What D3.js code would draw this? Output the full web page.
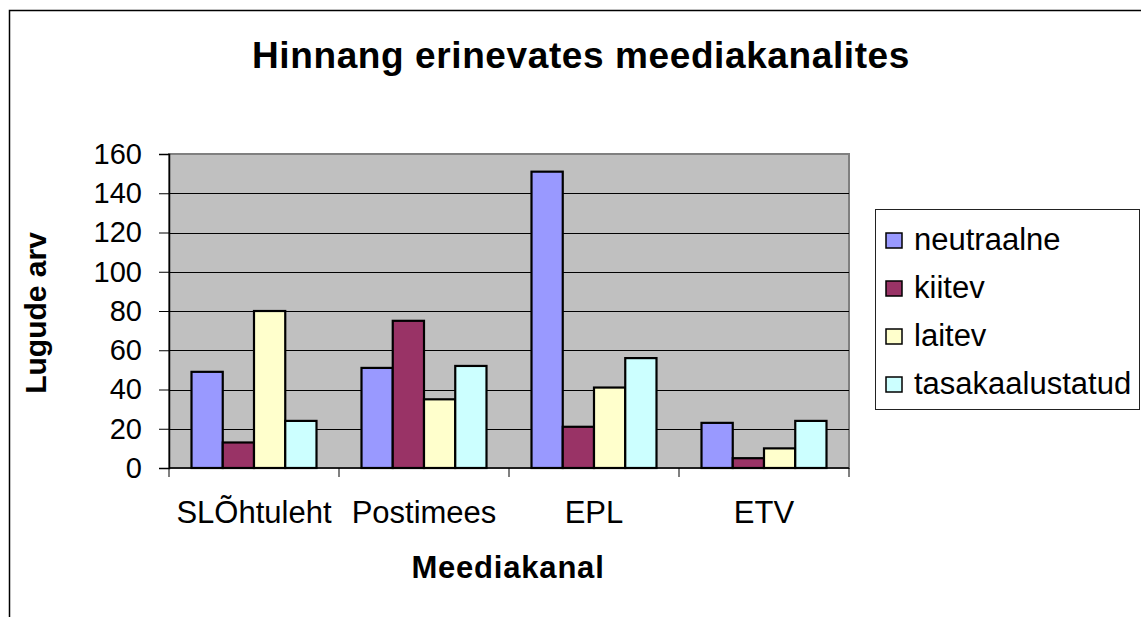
<!DOCTYPE html>
<html lang="et">
<head>
<meta charset="utf-8">
<script src="https://d3js.org/d3.v7.min.js"></script>
<title>Hinnang erinevates meediakanalites</title>
<style>
    body { margin: 0; background: #fff; }
    text { font-family: Arial, "Liberation Sans", sans-serif; fill: #000; }
</style>
</head>
<body>
<div id="container"></div>
<script>
    // data
    var channels = ["SLÕhtuleht", "Postimees", "EPL", "ETV"];
    var seriesNames = ["neutraalne", "kiitev", "laitev", "tasakaalustatud"];
    var neutraalne = [49, 51, 151, 23];
    var kiitev = [13, 75, 21, 5];
    var laitev = [80, 35, 41, 10];
    var tasakaalustatud = [24, 52, 56, 24];
    var yTicks = [0, 20, 40, 60, 80, 100, 120, 140, 160];
    var colours = ["#9999ff", "#993366", "#ffffcc", "#ccffff"];

    var seriesValues = [neutraalne, kiitev, laitev, tasakaalustatud];

    var W = 1141, H = 617;
    var plot = {left: 169, right: 849, top: 154, bottom: 468};

    var svg = d3.select("#container")
        .append("svg")
        .attr("width", W)
        .attr("height", H);

    // outer chart frame (only top and left edges fall inside the window)
    svg.append("rect")
        .attr("x", 9.5).attr("y", 10.5)
        .attr("width", 1200).attr("height", 700)
        .attr("fill", "#fff")
        .attr("stroke", "#000")
        .attr("stroke-width", 1.5);

    svg.append("text")
        .attr("x", 581).attr("y", 68)
        .attr("text-anchor", "middle")
        .style("font-size", "37px")
        .style("font-weight", "bold")
        .style("letter-spacing", "0.6px")
        .text("Hinnang erinevates meediakanalites");

    var x = d3.scaleBand()
        .domain(channels)
        .range([plot.left, plot.right])
        .padding(0);

    var xs = d3.scaleBand()
        .domain(seriesNames)
        .range([0, x.bandwidth()])
        .paddingInner(0)
        .paddingOuter(0.72);

    var y = d3.scaleLinear()
        .domain([0, 160])
        .range([plot.bottom, plot.top]);

    // plot area
    svg.append("rect")
        .attr("x", plot.left).attr("y", plot.top)
        .attr("width", plot.right - plot.left)
        .attr("height", plot.bottom - plot.top)
        .attr("fill", "#c0c0c0")
        .attr("stroke", "#808080")
        .attr("stroke-width", 2);

    // gridlines
    svg.append("g")
        .selectAll("line")
        .data(yTicks.filter(function(d) { return d > 0 && d < 160; }))
        .enter()
        .append("line")
        .attr("x1", plot.left).attr("x2", plot.right)
        .attr("y1", function(d) { return Math.round(y(d)) + 0.5; })
        .attr("y2", function(d) { return Math.round(y(d)) + 0.5; })
        .attr("stroke", "#000")
        .attr("stroke-width", 1);

    // bars
    var groups = svg.append("g")
        .selectAll("g")
        .data(channels)
        .enter()
        .append("g")
        .attr("transform", function(d) { return "translate(" + x(d) + ",0)"; });

    groups.selectAll("rect")
        .data(function(d, i) {
            return seriesNames.map(function(s, j) {
                return {series: s, value: seriesValues[j][i], colour: colours[j]};
            });
        })
        .enter()
        .append("rect")
        .attr("x", function(d) { return xs(d.series); })
        .attr("width", xs.bandwidth())
        .attr("y", function(d) { return y(d.value); })
        .attr("height", function(d) { return y(0) - y(d.value); })
        .attr("fill", function(d) { return d.colour; })
        .attr("stroke", "#000")
        .attr("stroke-width", 2.2);

    // y axis
    var yAxis = svg.append("g")
        .attr("transform", "translate(" + plot.left + ",0)")
        .call(d3.axisLeft(y).tickValues(yTicks).tickSize(10).tickPadding(17));
    yAxis.select(".domain").attr("stroke", "#000").attr("stroke-width", 1.5);
    yAxis.selectAll(".tick line").attr("stroke", "#000");
    yAxis.selectAll("text")
        .style("font-size", "29px")
        .style("font-family", "Arial, 'Liberation Sans', sans-serif")
        .attr("fill", "#000");

    // x axis: ticks sit on the category boundaries
    var xAxis = svg.append("g")
        .attr("transform", "translate(0," + plot.bottom + ")");
    xAxis.append("line")
        .attr("x1", plot.left).attr("x2", plot.right)
        .attr("stroke", "#000").attr("stroke-width", 1.5);
    xAxis.selectAll(".cat-tick")
        .data(channels.concat(["end"]))
        .enter()
        .append("line")
        .attr("class", "cat-tick")
        .attr("x1", function(d) { return d === "end" ? plot.right : x(d); })
        .attr("x2", function(d) { return d === "end" ? plot.right : x(d); })
        .attr("y1", 0).attr("y2", 9)
        .attr("stroke", "#000");
    xAxis.selectAll(".cat-label")
        .data(channels)
        .enter()
        .append("text")
        .attr("class", "cat-label")
        .attr("x", function(d) { return x(d) + x.bandwidth() / 2; })
        .attr("y", 55)
        .attr("text-anchor", "middle")
        .style("font-size", "31px")
        .text(function(d) { return d; });

    svg.append("text")
        .attr("x", 508).attr("y", 578)
        .attr("text-anchor", "middle")
        .style("font-size", "31px")
        .style("font-weight", "bold")
        .style("letter-spacing", "0.8px")
        .text("Meediakanal");

    svg.append("text")
        .attr("transform", "translate(46,313) rotate(-90)")
        .attr("text-anchor", "middle")
        .style("font-size", "30px")
        .style("font-weight", "bold")
        .text("Lugude arv");

    // legend
    var legend = svg.append("g");
    legend.append("rect")
        .attr("x", 875.5).attr("y", 209.5)
        .attr("width", 264).attr("height", 200)
        .attr("fill", "#fff")
        .attr("stroke", "#222")
        .attr("stroke-width", 1);

    var item = legend.selectAll(".item")
        .data(seriesNames)
        .enter()
        .append("g")
        .attr("class", "item")
        .attr("transform", function(d, i) { return "translate(886," + (240 + i * 48) + ")"; });
    item.append("rect")
        .attr("x", 0).attr("y", -7)
        .attr("width", 16).attr("height", 15)
        .attr("fill", function(d, i) { return colours[i]; })
        .attr("stroke", "#000")
        .attr("stroke-width", 1.5);
    item.append("text")
        .attr("x", 28).attr("y", 10)
        .style("font-size", "31px")
        .text(function(d) { return d; });
</script>
</body>
</html>
